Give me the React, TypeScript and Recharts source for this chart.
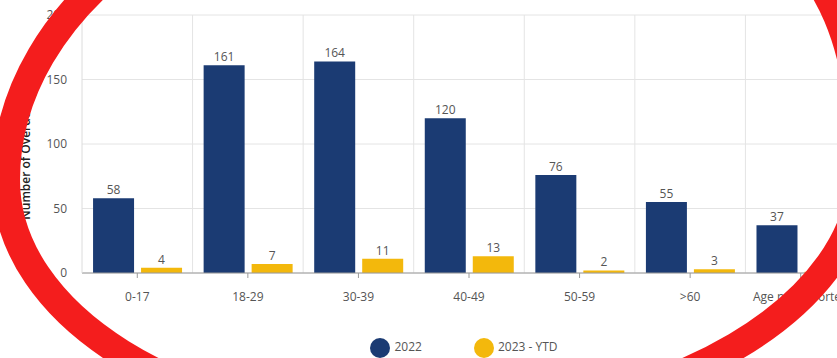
import { BarChart, Bar, XAxis, YAxis, CartesianGrid, Legend, LabelList } from 'recharts';

const ageGroups = ['0-17', '18-29', '30-39', '40-49', '50-59', '>60', 'Age not reported'];
const counts2022 = [58, 161, 164, 120, 76, 55, 37];
const counts2023Ytd = [4, 7, 11, 13, 2, 3, 1];
const yTicks = [0, 50, 100, 150, 200];

const data = ageGroups.map((age, i) => ({ age, y2022: counts2022[i], y2023: counts2023Ytd[i] }));

const NAVY = '#1b3b73';
const GOLD = '#f3b80c';
const FONT = '"Open Sans", "Noto Sans", sans-serif';

// grid lines sit between categories, not at their centres
const boundaryLines = ({ offset }: any) => {
  const n = ageGroups.length;
  const step = offset.width / n;
  return ageGroups.map((_, i) => offset.left + step * (i + 1));
};

// hand-drawn red loop over the screenshot (decoration, not data)
const LOOP =
  'M6,180 C6,315 182,425 400,425 C680,425 862,300 862,170 ' +
  'C866,-80 720,-140 450,-140 C205,-140 6,4 6,180 Z';

export default function App() {
  return (
    <div style={{ position: 'fixed', left: 0, top: 0, width: 837, height: 358, overflow: 'hidden', background: '#fff' }}>
      <BarChart
        width={938}
        height={358}
        data={data}
        margin={{ top: 15, right: 82, left: 32, bottom: 25 }}
        barCategoryGap="10%"
        barGap={7}
        style={{ fontFamily: FONT }}
      >
        <CartesianGrid stroke="#e4e4e4" verticalCoordinatesGenerator={boundaryLines} />
        <XAxis
          dataKey="age"
          stroke="#9a9a9a"
          tick={{ fill: '#555', fontSize: 12 }}
          tickSize={5}
          tickMargin={14}
          height={40}
          interval={0}
        />
        <YAxis
          domain={[0, 200]}
          ticks={yTicks}
          stroke="#dcdcdc"
          tickLine={false}
          tick={{ fill: '#555', fontSize: 12 }}
          tickMargin={9}
          width={50}
          label={{ value: 'Number of Overdoses', angle: -90, position: 'left', offset: 6, dy: 12, style: { fill: '#222', fontSize: 12, fontWeight: 600, textAnchor: 'middle' } }}
        />
        <Legend
          iconType="circle"
          iconSize={20}
          wrapperStyle={{ bottom: 0, left: 0, width: 938, fontSize: 12, color: '#555' }}
          formatter={(v: string, _e: any, i: number) => (
            <span style={{ color: '#555', marginRight: i === 0 ? 42 : 0 }}>{v}</span>
          )}
        />
        <Bar dataKey="y2022" name="2022" fill={NAVY} isAnimationActive={false}>
          <LabelList dataKey="y2022" position="top" fill="#555" fontSize={12} offset={4} />
        </Bar>
        <Bar dataKey="y2023" name="2023 - YTD" fill={GOLD} isAnimationActive={false}>
          <LabelList dataKey="y2023" position="top" fill="#555" fontSize={12} offset={4} />
        </Bar>
      </BarChart>
      <svg width={837} height={358} style={{ position: 'absolute', left: 0, top: 0, pointerEvents: 'none' }}>
        <path d={LOOP} fill="none" stroke="#f41d1d" strokeWidth={28} />
      </svg>
    </div>
  );
}
